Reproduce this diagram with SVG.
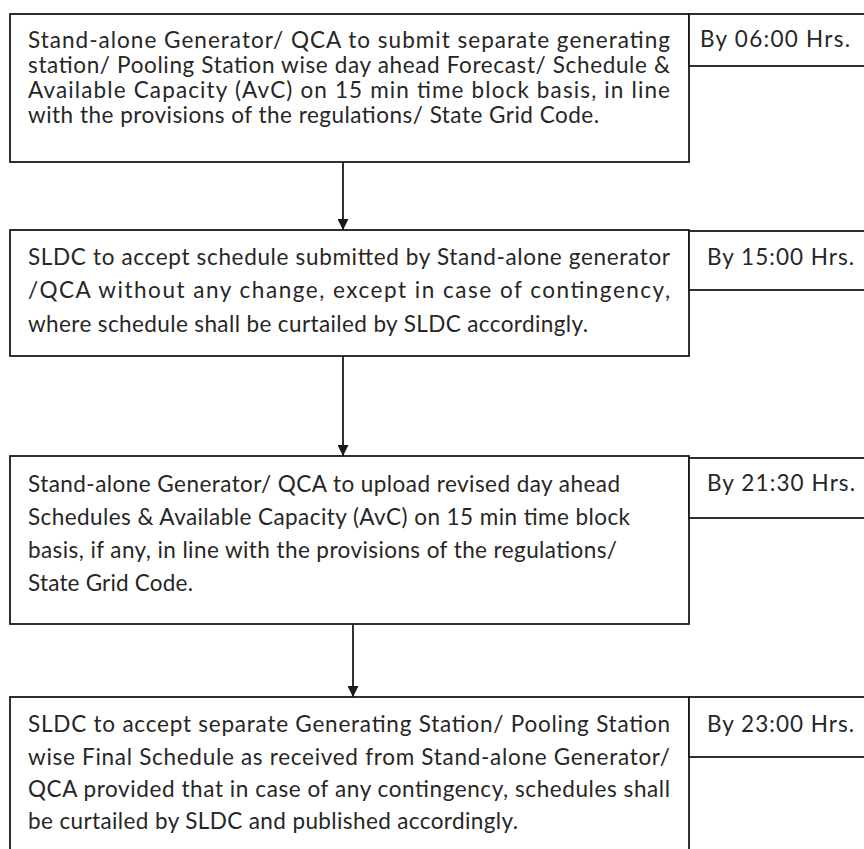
<svg xmlns="http://www.w3.org/2000/svg" width="864" height="849" viewBox="0 0 864 849">
<defs>
<style>
.box{fill:#ffffff;stroke:#1a1a1a;stroke-width:1.8}
.t{font-family:Lato,"Open Sans","Liberation Sans",sans-serif;font-size:22.5px;fill:#262626}
.c{stroke:#1a1a1a;stroke-width:1.8;fill:none}
</style>
<marker id="tri" markerWidth="11" markerHeight="11" refX="10" refY="5" orient="auto" markerUnits="userSpaceOnUse" viewBox="0 0 10 10">
<path d="M0,0 L10,5 L0,10 Z" fill="#1a1a1a"/>
</marker>
</defs>
<rect width="864" height="849" fill="#ffffff"/>
<g id="connectors">
<line class="c" x1="343" y1="162" x2="343" y2="230" marker-end="url(#tri)"/>
<line class="c" x1="343" y1="356" x2="343" y2="456" marker-end="url(#tri)"/>
<line class="c" x1="353" y1="624" x2="353" y2="697" marker-end="url(#tri)"/>
</g>
<g id="step1">
<rect class="box" x="10" y="14" width="679" height="148"/>
<text class="t" x="28" y="48" textLength="642" lengthAdjust="spacing">Stand-alone Generator/ QCA to submit separate generating</text>
<text class="t" x="28" y="73" textLength="642" lengthAdjust="spacing">station/ Pooling Station wise day ahead Forecast/ Schedule &amp;</text>
<text class="t" x="28" y="98" textLength="642" lengthAdjust="spacing">Available Capacity (AvC) on 15 min time block basis, in line</text>
<text class="t" x="28" y="123" textLength="571" lengthAdjust="spacing">with the provisions of the regulations/ State Grid Code.</text>
</g>
<g id="time1">
<rect class="box" x="689" y="14" width="190" height="52"/>
<text class="t" x="700" y="47" textLength="150" lengthAdjust="spacing">By 06:00 Hrs.</text>
</g>
<g id="step2">
<rect class="box" x="10" y="230" width="679" height="126"/>
<text class="t" x="28" y="265" textLength="642" lengthAdjust="spacing">SLDC to accept schedule submitted by Stand-alone generator</text>
<text class="t" x="28" y="298" textLength="642" lengthAdjust="spacing">/QCA without any change, except in case of contingency,</text>
<text class="t" x="28" y="332" textLength="560" lengthAdjust="spacing">where schedule shall be curtailed by SLDC accordingly.</text>
</g>
<g id="time2">
<rect class="box" x="689" y="231" width="190" height="59"/>
<text class="t" x="707" y="265" textLength="147" lengthAdjust="spacing">By 15:00 Hrs.</text>
</g>
<g id="step3">
<rect class="box" x="10" y="456" width="679" height="168"/>
<text class="t" x="28" y="492" textLength="592" lengthAdjust="spacing">Stand-alone Generator/ QCA to upload revised day ahead</text>
<text class="t" x="28" y="525" textLength="602" lengthAdjust="spacing">Schedules &amp; Available Capacity (AvC) on 15 min time block</text>
<text class="t" x="28" y="558" textLength="589" lengthAdjust="spacing">basis, if any, in line with the provisions of the regulations/</text>
<text class="t" x="28" y="591" textLength="165" lengthAdjust="spacing">State Grid Code.</text>
</g>
<g id="time3">
<rect class="box" x="689" y="458" width="190" height="60"/>
<text class="t" x="707" y="491" textLength="148" lengthAdjust="spacing">By 21:30 Hrs.</text>
</g>
<g id="step4">
<rect class="box" x="10" y="697" width="679" height="180"/>
<text class="t" x="28" y="732" textLength="642" lengthAdjust="spacing">SLDC to accept separate Generating Station/ Pooling Station</text>
<text class="t" x="28" y="765" textLength="642" lengthAdjust="spacing">wise Final Schedule as received from Stand-alone Generator/</text>
<text class="t" x="28" y="797" textLength="642" lengthAdjust="spacing">QCA provided that in case of any contingency, schedules shall</text>
<text class="t" x="28" y="829" textLength="490" lengthAdjust="spacing">be curtailed by SLDC and published accordingly.</text>
</g>
<g id="time4">
<rect class="box" x="689" y="697" width="190" height="60"/>
<text class="t" x="707" y="732" textLength="147" lengthAdjust="spacing">By 23:00 Hrs.</text>
</g>
</svg>
